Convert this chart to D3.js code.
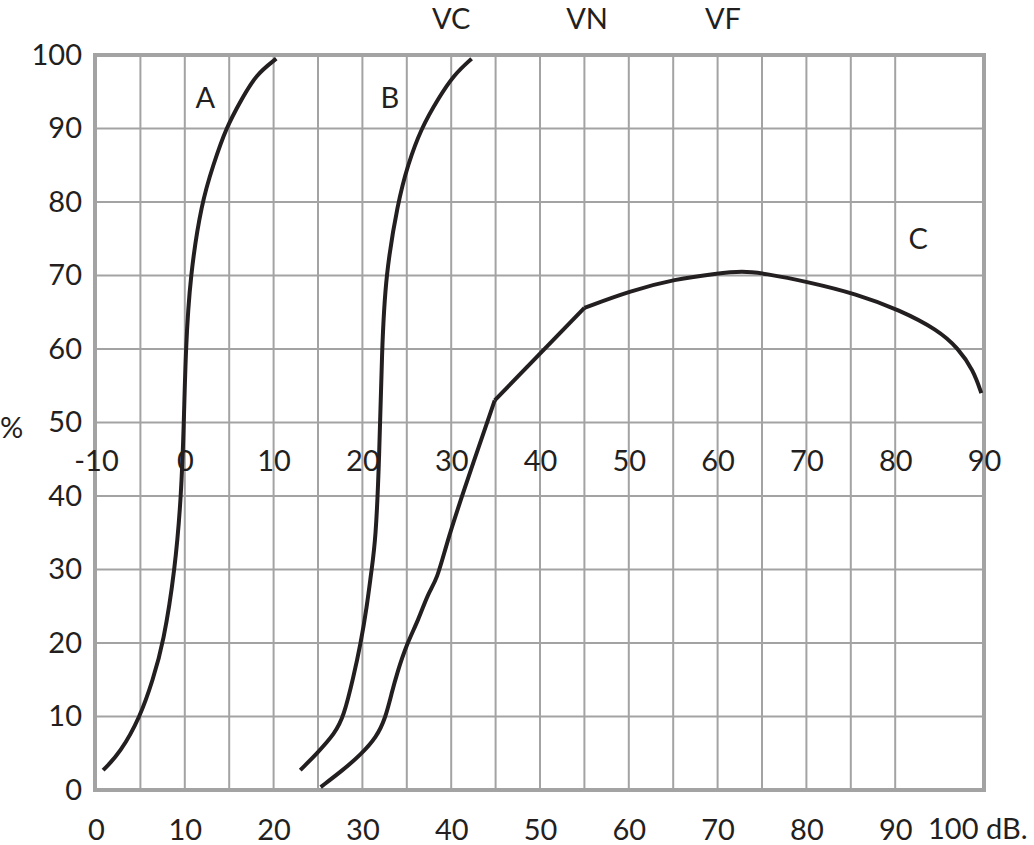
<!DOCTYPE html>
<html>
<head>
<meta charset="utf-8">
<script src="https://cdn.jsdelivr.net/npm/d3@7"></script>
<style>
  body { margin: 0; background: #fff; }
  text { font-family: Lato, "Open Sans", sans-serif; fill: #231f20; }
</style>
</head>
<body>
<svg id="chart" width="1034" height="845"></svg>
<script>
// bottom axis in dB, middle axis shifted by 10
const bottomTicks = [0, 10, 20, 30, 40, 50, 60, 70, 80, 90];
const middleTicks = [-10, 0, 10, 20, 30, 40, 50, 60, 70, 80, 90];
const percentTicks = [0, 10, 20, 30, 40, 50, 60, 70, 80, 90, 100];
// vertical grid every 5 dB (no line at 95)
const gridDb = [5, 10, 15, 20, 25, 30, 35, 40, 45, 50, 55, 60, 65, 70, 75, 80, 85, 90];

const topLabels = ['VC', 'VN', 'VF'];
const topLabelDb = [40, 55.3, 70.6];

const curveNames = ['A', 'B', 'C'];
const curveLabelDb = [12.3, 33.1, 92.6];
const curveLabelPct = [94.2, 94.2, 75];

const aDb = [0.8, 2.7, 5.0, 6.4, 7.6, 8.9, 9.6, 9.9, 10.1, 10.6, 11.9, 13.2, 14.6, 16.5, 18.0, 20.3];
const aPct = [2.7, 5, 10, 15, 20, 30, 40, 50, 60, 70, 80, 85, 90, 94.2, 97.3, 99.5];

const bDb = [23.0, 24.9, 26.9, 27.9, 29.0, 29.8, 30.5, 31.0, 31.5, 31.9, 32.2, 32.6, 34.0, 35.1, 36.6, 38.6, 40.3, 42.3];
const bPct = [2.7, 5, 7.7, 10, 15.4, 19.9, 24.9, 29.7, 34, 45, 60, 70, 80, 85, 90, 94.2, 97.3, 99.5];

const cDb = [25.3, 27.8, 29.8, 31.6, 32.6, 33.3, 33.9, 35.0, 36.3, 37.4, 38.4, 39.5, 41.2, 44.9,
  55.0, 60.1, 65.2, 70.0, 72.8, 75.2, 80.3, 85.6, 90.5, 94.8, 97.1, 98.8, 99.7];
const cPct = [0.4, 2.7, 4.8, 7.2, 9.8, 13.2, 15.9, 19.9, 23.1, 26.8, 28.6, 33.6, 40, 53,
  65.6, 67.9, 69.5, 70.3, 70.6, 70.3, 69.1, 67.5, 65.3, 62.6, 60.1, 57.1, 54];
// indices where curve C has a sharp corner
const cCorners = [13, 14];

const gridColor = '#a3a3a3',
  inkColor = '#231f20',
  fontSize = 29;

const svg = d3.select('#chart');

const x = d3.scaleLinear().domain([0, 100]).range([96, 984]);
const xMid = d3.scaleLinear().domain([-10, 90]).range([96, 984]);
const y = d3.scaleLinear().domain([0, 100]).range([790, 55]);

// grid
const grid = svg.append('g').attr('class', 'grid');
grid.selectAll('line.v')
  .data(gridDb)
  .enter().append('line')
  .attr('class', 'v')
  .attr('x1', d => x(d)).attr('x2', d => x(d))
  .attr('y1', y(100)).attr('y2', y(0))
  .attr('stroke', gridColor).attr('stroke-width', 2);
grid.selectAll('line.h')
  .data(percentTicks.slice(1, -1))
  .enter().append('line')
  .attr('class', 'h')
  .attr('x1', x(0)).attr('x2', x(100))
  .attr('y1', d => y(d)).attr('y2', d => y(d))
  .attr('stroke', gridColor).attr('stroke-width', 2);
grid.append('rect')
  .attr('x', x(0) - 1).attr('y', y(100))
  .attr('width', x(100) - x(0) + 1).attr('height', y(0) - y(100))
  .attr('fill', 'none')
  .attr('stroke', gridColor).attr('stroke-width', 4);

// axes
function styleAxis(g) {
  g.select('.domain').remove();
  g.selectAll('text')
    .attr('font-size', fontSize)
    .attr('font-family', 'Lato, "Open Sans", sans-serif')
    .attr('fill', inkColor);
}

svg.append('g')
  .attr('transform', 'translate(82,0)')
  .call(d3.axisLeft(y).tickValues(percentTicks).tickSize(0).tickPadding(0))
  .call(styleAxis);

svg.append('g')
  .attr('transform', 'translate(0,' + 790 + ')')
  .call(d3.axisBottom(x).tickValues(bottomTicks).tickSize(0).tickPadding(29))
  .call(styleAxis);

svg.append('g')
  .attr('transform', 'translate(0,' + 450 + ')')
  .call(d3.axisBottom(xMid).tickValues(middleTicks).tickSize(0).tickPadding(0)
    .tickFormat(d => String(d)))
  .call(styleAxis);

svg.append('text')
  .attr('x', 928).attr('y', 839)
  .attr('font-size', fontSize)
  .text('100 dB.');

svg.append('text')
  .attr('x', 0).attr('y', 438)
  .attr('font-size', fontSize)
  .text('%');

svg.selectAll('text.top')
  .data(topLabels)
  .enter().append('text')
  .attr('class', 'top')
  .attr('x', (d, i) => x(topLabelDb[i]))
  .attr('y', 29)
  .attr('text-anchor', 'middle')
  .attr('font-size', fontSize)
  .text(d => d);

svg.selectAll('text.curve-name')
  .data(curveNames)
  .enter().append('text')
  .attr('class', 'curve-name')
  .attr('x', (d, i) => x(curveLabelDb[i]))
  .attr('y', (d, i) => y(curveLabelPct[i]))
  .attr('text-anchor', 'middle')
  .attr('dy', '0.36em')
  .attr('font-size', fontSize)
  .text(d => d);

// curves
const zip = (xs, ys) => xs.map((v, i) => [v, ys[i]]);

const smooth = d3.line().x(d => x(d[0])).y(d => y(d[1])).curve(d3.curveBasis);
const straight = d3.line().x(d => x(d[0])).y(d => y(d[1]));

const cPoints = zip(cDb, cPct);
const segments = [
  {pts: zip(aDb, aPct), line: smooth},
  {pts: zip(bDb, bPct), line: smooth},
  {pts: cPoints.slice(0, cCorners[0] + 1), line: smooth},
  {pts: cPoints.slice(cCorners[0], cCorners[1] + 1), line: straight},
  {pts: cPoints.slice(cCorners[1]), line: smooth}
];

svg.append('g')
  .attr('class', 'curves')
  .selectAll('path')
  .data(segments)
  .enter().append('path')
  .attr('d', s => s.line(s.pts))
  .attr('fill', 'none')
  .attr('stroke', inkColor)
  .attr('stroke-width', 4)
  .attr('stroke-linejoin', 'round');
</script>
</body>
</html>
